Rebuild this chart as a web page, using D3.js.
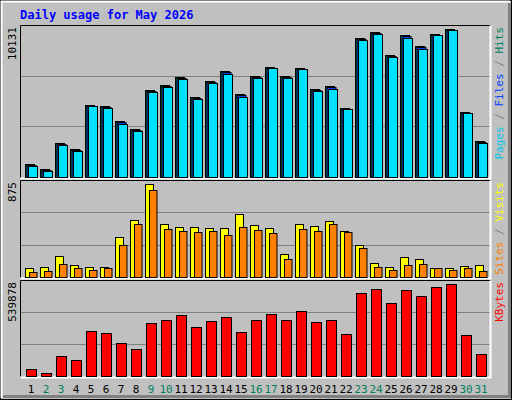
<!DOCTYPE html>
<html>
<head>
<meta charset="utf-8">
<script src="https://cdn.jsdelivr.net/npm/d3@7"></script>
<style>
body { margin: 0; background: #fff; }
text { font-family: "DejaVu Sans Mono", monospace; }
</style>
</head>
<body>
<div id="chart"></div>
<script>
var days = d3.range(1, 32);
var weekendDays = [2, 3, 9, 10, 16, 17, 23, 24, 30, 31];

var hits = [890, 548, 2327, 1917, 4928, 4860, 3833, 3286, 5955, 6297, 6845, 5476, 6571, 7256, 5681, 6913,
    7530, 6913, 7461, 6024, 6229, 4723, 9515, 9925, 8351, 9720, 8967, 9788, 10131, 4449, 2464];
var files = [870, 530, 2310, 1900, 4928, 4840, 3800, 3260, 5940, 6280, 6830, 5460, 6550, 7230, 5650, 6900,
    7530, 6900, 7461, 6000, 6200, 4723, 9500, 9910, 8330, 9700, 8940, 9788, 10131, 4449, 2440];
var pages = [821, 479, 2259, 1848, 4928, 4792, 3696, 3217, 5887, 6229, 6777, 5408, 6503, 7119, 5545, 6845,
    7530, 6845, 7461, 5955, 6092, 4723, 9446, 9857, 8282, 9583, 8830, 9788, 10131, 4449, 2396];

var visits = [89, 98, 193, 117, 98, 98, 373, 534, 875, 496, 468, 468, 458, 458, 591, 487,
    458, 212, 496, 477, 525, 430, 297, 136, 98, 184, 174, 89, 80, 108, 117];
var sites = [51, 61, 127, 89, 70, 89, 297, 496, 818, 449, 430, 420, 430, 392, 468, 439,
    411, 165, 449, 430, 496, 420, 269, 98, 70, 117, 127, 80, 70, 80, 61];

var kbytes = [43712, 20084, 114596, 90968, 262271, 250457, 191387, 155945, 309527, 327248, 356783,
    285899, 321341, 344969, 256364, 327248, 362690, 327248, 380411, 315434, 327248, 244550,
    486737, 510365, 427667, 504458, 469016, 522179, 539878, 238643, 126410];

var width = 512, height = 400;
var plotLeft = 20, plotRight = 490;

var svg = d3.select('#chart').append('svg')
    .attr('width', width)
    .attr('height', height);

// outer frame
svg.append('rect').attr('x', 0.5).attr('y', 0.5).attr('width', width - 1).attr('height', height - 1)
    .attr('fill', '#c0c0c0').attr('stroke', '#000');
svg.append('path').attr('d', 'M1.5,398V1.5H510').attr('stroke', '#fff').attr('fill', 'none').attr('stroke-width', 2);
svg.append('path').attr('d', 'M3,396.5H509.5V3').attr('stroke', '#808080').attr('fill', 'none').attr('stroke-width', 3);

svg.append('text')
    .attr('x', 20).attr('y', 19)
    .attr('fill', '#0000ff')
    .attr('font-size', 12).attr('font-weight', 'bold')
    .text('Daily usage for May 2026');

var x = d3.scaleBand().domain(days).range([20, 485]).paddingInner(0).paddingOuter(0);
// slot positions: each day is 15px starting at 25
var slot = d => 25 + (d - 1) * 15;

var panels = [
    { top: 25, bottom: 177, max: 10131, label: '10131',
      names: [['Pages', '#00c8e8'], [' / ', '#808080'], ['Files', '#0040ff'], [' / ', '#808080'], ['Hits', '#00805c']] },
    { top: 180, bottom: 277, max: 875, label: '875',
      names: [['Sites', '#ff8000'], [' / ', '#808080'], ['Visits', '#ffff00']] },
    { top: 280, bottom: 376, max: 539878, label: '539878',
      names: [['KBytes', '#ff0000']] }
];

panels.forEach(function(p) {
    // scale leaves a few pixels of headroom above the max
    p.y = d3.scaleLinear().domain([0, p.max]).range([p.bottom, p.top + 4]);
    var g = svg.append('g');
    var h = p.bottom - p.top;
    [1, 2].forEach(function(k) {
        var gy = Math.round(p.top + h * k / 3) + 0.5;
        g.append('line').attr('x1', plotLeft).attr('x2', plotRight).attr('y1', gy).attr('y2', gy)
            .attr('stroke', '#808080');
    });
    g.append('path')
        .attr('d', 'M' + (plotLeft + 0.5) + ',' + (p.bottom + 0.5) + 'V' + (p.top + 0.5) + 'H' + (plotRight + 0.5))
        .attr('stroke', '#000').attr('fill', 'none');
    g.append('path')
        .attr('d', 'M' + (plotLeft + 0.5) + ',' + (p.bottom + 1.5) + 'H' + (plotRight + 0.5) + 'V' + (p.top + 0.5))
        .attr('stroke', '#fff').attr('fill', 'none').attr('stroke-width', 2);

    svg.append('text')
        .attr('transform', 'translate(16,' + (p.top + 2) + ') rotate(-90)')
        .attr('text-anchor', 'end')
        .attr('font-size', 11)
        .text(p.label);

    var t = svg.append('text')
        .attr('transform', 'translate(503,' + (p.top + 2) + ') rotate(-90)')
        .attr('text-anchor', 'end')
        .attr('font-size', 11);
    p.names.forEach(function(n) {
        t.append('tspan').attr('fill', n[1]).text(n[0]);
    });
});

function bars(panel, values, dx, dy, w, color) {
    svg.append('g').selectAll('rect')
        .data(values)
        .join('rect')
        .attr('x', (v, i) => slot(i + 1) + dx + 0.5)
        .attr('y', v => Math.round(panel.y(v)) + dy + 0.5)
        .attr('width', w)
        .attr('height', v => Math.max(0, panel.bottom - Math.round(panel.y(v)) - dy))
        .attr('fill', color)
        .attr('stroke', '#000');
}

bars(panels[0], hits, 0, 0, 9, '#00805c');
bars(panels[0], files, 1.5, 1, 9, '#0040ff');
bars(panels[0], pages, 3, 1, 9, '#00e0ff');

bars(panels[1], visits, 0, 0, 8, '#ffff00');
bars(panels[1], sites, 4, 0, 7.5, '#ff8000');

bars(panels[2], kbytes, 1, 0, 10, '#ff0000');

svg.append('g').selectAll('text')
    .data(days)
    .join('text')
    .attr('x', d => slot(d) + 6)
    .attr('y', 393)
    .attr('text-anchor', 'middle')
    .attr('font-size', 11)
    .attr('fill', d => weekendDays.includes(d) ? '#00805c' : '#000')
    .text(d => d);
</script>
</body>
</html>
